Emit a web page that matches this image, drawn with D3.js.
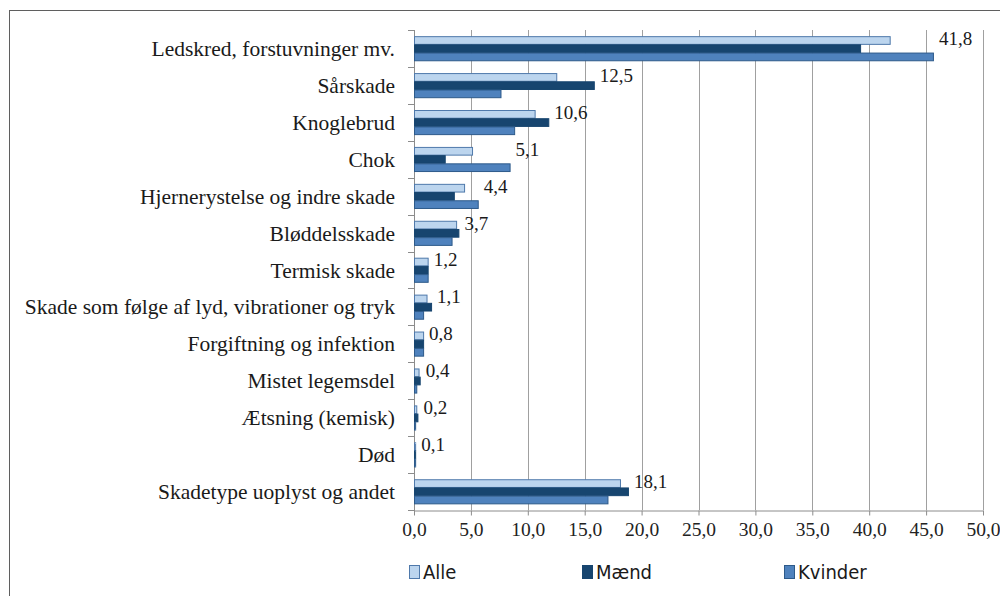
<!DOCTYPE html>
<html>
<head>
<meta charset="utf-8">
<script src="https://cdnjs.cloudflare.com/ajax/libs/d3/7.8.5/d3.min.js"></script>
<style>
  body { margin: 0; background: #fff; }
  svg { display: block; }
</style>
</head>
<body>
<div id="grafico"></div>
<script>
// Datos (procent)
var kategorier = [
    "Ledskred, forstuvninger mv.",
    "Sårskade",
    "Knoglebrud",
    "Chok",
    "Hjernerystelse og indre skade",
    "Bløddelsskade",
    "Termisk skade",
    "Skade som følge af lyd, vibrationer og tryk",
    "Forgiftning og infektion",
    "Mistet legemsdel",
    "Ætsning (kemisk)",
    "Død",
    "Skadetype uoplyst og andet"
];
var alle    = [41.8, 12.5, 10.6, 5.1, 4.4, 3.7, 1.2, 1.1, 0.8, 0.4, 0.2, 0.1, 18.1];
var maend   = [39.2, 15.8, 11.8, 2.7, 3.5, 3.9, 1.2, 1.5, 0.8, 0.5, 0.3, 0.1, 18.8];
var kvinder = [45.6,  7.6,  8.8, 8.4, 5.6, 3.3, 1.2, 0.8, 0.8, 0.2, 0.1, 0.1, 17.0];
var serier = ["Alle", "Mænd", "Kvinder"];
var xTicks = [0, 5, 10, 15, 20, 25, 30, 35, 40, 45, 50];

var width = 1000, height = 596;
var pLeft = 414, pRight = 983, pTop = 30, pBottom = 510;

var fill   = { "Alle": "#bcd5ee", "Mænd": "#17456f", "Kvinder": "#4f82bd" };
var stroke = { "Alle": "#4f79ab", "Mænd": "#17456f", "Kvinder": "#2d5a8a" };
var serif = "'Liberation Serif', 'Times New Roman', serif";

function komma(v) { return d3.format(".1f")(v).replace(".", ","); }

var svg = d3.select("#grafico").append("svg")
    .attr("width", width)
    .attr("height", height);

// ramme rundt om diagrammet
svg.append("rect")
    .attr("x", 9.5).attr("y", 10.5)
    .attr("width", 1000).attr("height", 600)
    .attr("fill", "none")
    .attr("stroke", "#5f5f5f")
    .attr("stroke-width", 1);

var x = d3.scaleLinear().domain([0, 50]).range([pLeft, pRight]);
var y = d3.scaleBand().domain(kategorier).range([pTop, pBottom]);
var y1 = d3.scaleBand().domain(serier).range([0, y.bandwidth()]).paddingOuter(0.75);

// gitterlinjer
svg.append("g")
    .selectAll("line")
    .data(xTicks.slice(1))
    .enter().append("line")
    .attr("x1", function (d) { return Math.round(x(d)) + 0.5; })
    .attr("x2", function (d) { return Math.round(x(d)) + 0.5; })
    .attr("y1", pTop)
    .attr("y2", pBottom)
    .attr("stroke", "#a0a0a0");

// x-akse
var xAxis = svg.append("g")
    .attr("transform", "translate(0," + (pBottom + 0.5) + ")")
    .call(d3.axisBottom(x).tickValues(xTicks).tickSize(5).tickSizeOuter(0).tickFormat(komma));
xAxis.attr("font-family", null).attr("font-size", null);
xAxis.select(".domain").attr("stroke", "#8c8c8c");
xAxis.selectAll(".tick line").attr("stroke", "#8c8c8c");
xAxis.selectAll("text")
    .attr("dy", "0.9em")
    .style("font-family", serif)
    .style("font-size", "19.5px")
    .attr("fill", "#222");

// y-akse: streger mellem kategorierne
var yAxisG = svg.append("g");
yAxisG.append("line")
    .attr("x1", pLeft + 0.5).attr("x2", pLeft + 0.5)
    .attr("y1", pTop).attr("y2", pBottom + 5)
    .attr("stroke", "#8c8c8c");
yAxisG.selectAll(".ytick")
    .data(d3.range(kategorier.length + 1))
    .enter().append("line")
    .attr("class", "ytick")
    .attr("x1", pLeft - 6).attr("x2", pLeft)
    .attr("y1", function (i) { return Math.round(pTop + i * y.step()) + 0.5; })
    .attr("y2", function (i) { return Math.round(pTop + i * y.step()) + 0.5; })
    .attr("stroke", "#8c8c8c");

yAxisG.selectAll(".ylabel")
    .data(kategorier)
    .enter().append("text")
    .attr("class", "ylabel")
    .attr("x", 395)
    .attr("y", function (d) { return y(d) + y.bandwidth() / 2; })
    .attr("dy", "0.35em")
    .attr("text-anchor", "end")
    .style("font-family", serif)
    .style("font-size", "21.5px")
    .attr("fill", "#1a1a1a")
    .text(function (d) { return d; });

// tabel med en raekke pr. kategori og serie
var rows = [];
kategorier.forEach(function (k, i) {
    rows.push({ kat: k, serie: "Alle", v: alle[i] });
    rows.push({ kat: k, serie: "Mænd", v: maend[i] });
    rows.push({ kat: k, serie: "Kvinder", v: kvinder[i] });
});

svg.append("g")
    .selectAll("rect")
    .data(rows)
    .enter().append("rect")
    .attr("x", pLeft + 0.5)
    .attr("y", function (d) { return y(d.kat) + y1(d.serie) + 0.5; })
    .attr("width", function (d) { return Math.max(x(d.v) - pLeft, 0.8); })
    .attr("height", y1.bandwidth() - 0.5)
    .attr("fill", function (d) { return fill[d.serie]; })
    .attr("stroke", function (d) { return stroke[d.serie]; })
    .attr("stroke-width", 1);

// dataetiketter for Alle
svg.append("g")
    .selectAll("text")
    .data(kategorier)
    .enter().append("text")
    .attr("x", function (d, i) { return x(Math.max(alle[i], maend[i], kvinder[i])) + 6; })
    .attr("y", function (d) { return y(d) + y1("Alle") + y1.bandwidth() / 2 - 2; })
    .attr("dy", "0.35em")
    .style("font-family", serif)
    .style("font-size", "19px")
    .attr("fill", "#1a1a1a")
    .text(function (d, i) { return komma(alle[i]); });

// forklaring
var legendX = [409, 582, 784];
var legend = svg.append("g")
    .selectAll("g")
    .data(serier)
    .enter().append("g")
    .attr("transform", function (d, i) { return "translate(" + legendX[i] + ",565)"; });
legend.append("rect")
    .attr("x", 0.5).attr("y", 0.5)
    .attr("width", 10).attr("height", 13)
    .attr("fill", function (d) { return fill[d]; })
    .attr("stroke", function (d) { return stroke[d]; });
legend.append("text")
    .attr("x", 14)
    .attr("y", 7)
    .attr("dy", "0.35em")
    .style("font-family", "'DejaVu Sans Condensed', 'DejaVu Sans', sans-serif")
    .style("font-size", "20px")
    .attr("fill", "#1a1a1a")
    .text(function (d) { return d; });
</script>
</body>
</html>
